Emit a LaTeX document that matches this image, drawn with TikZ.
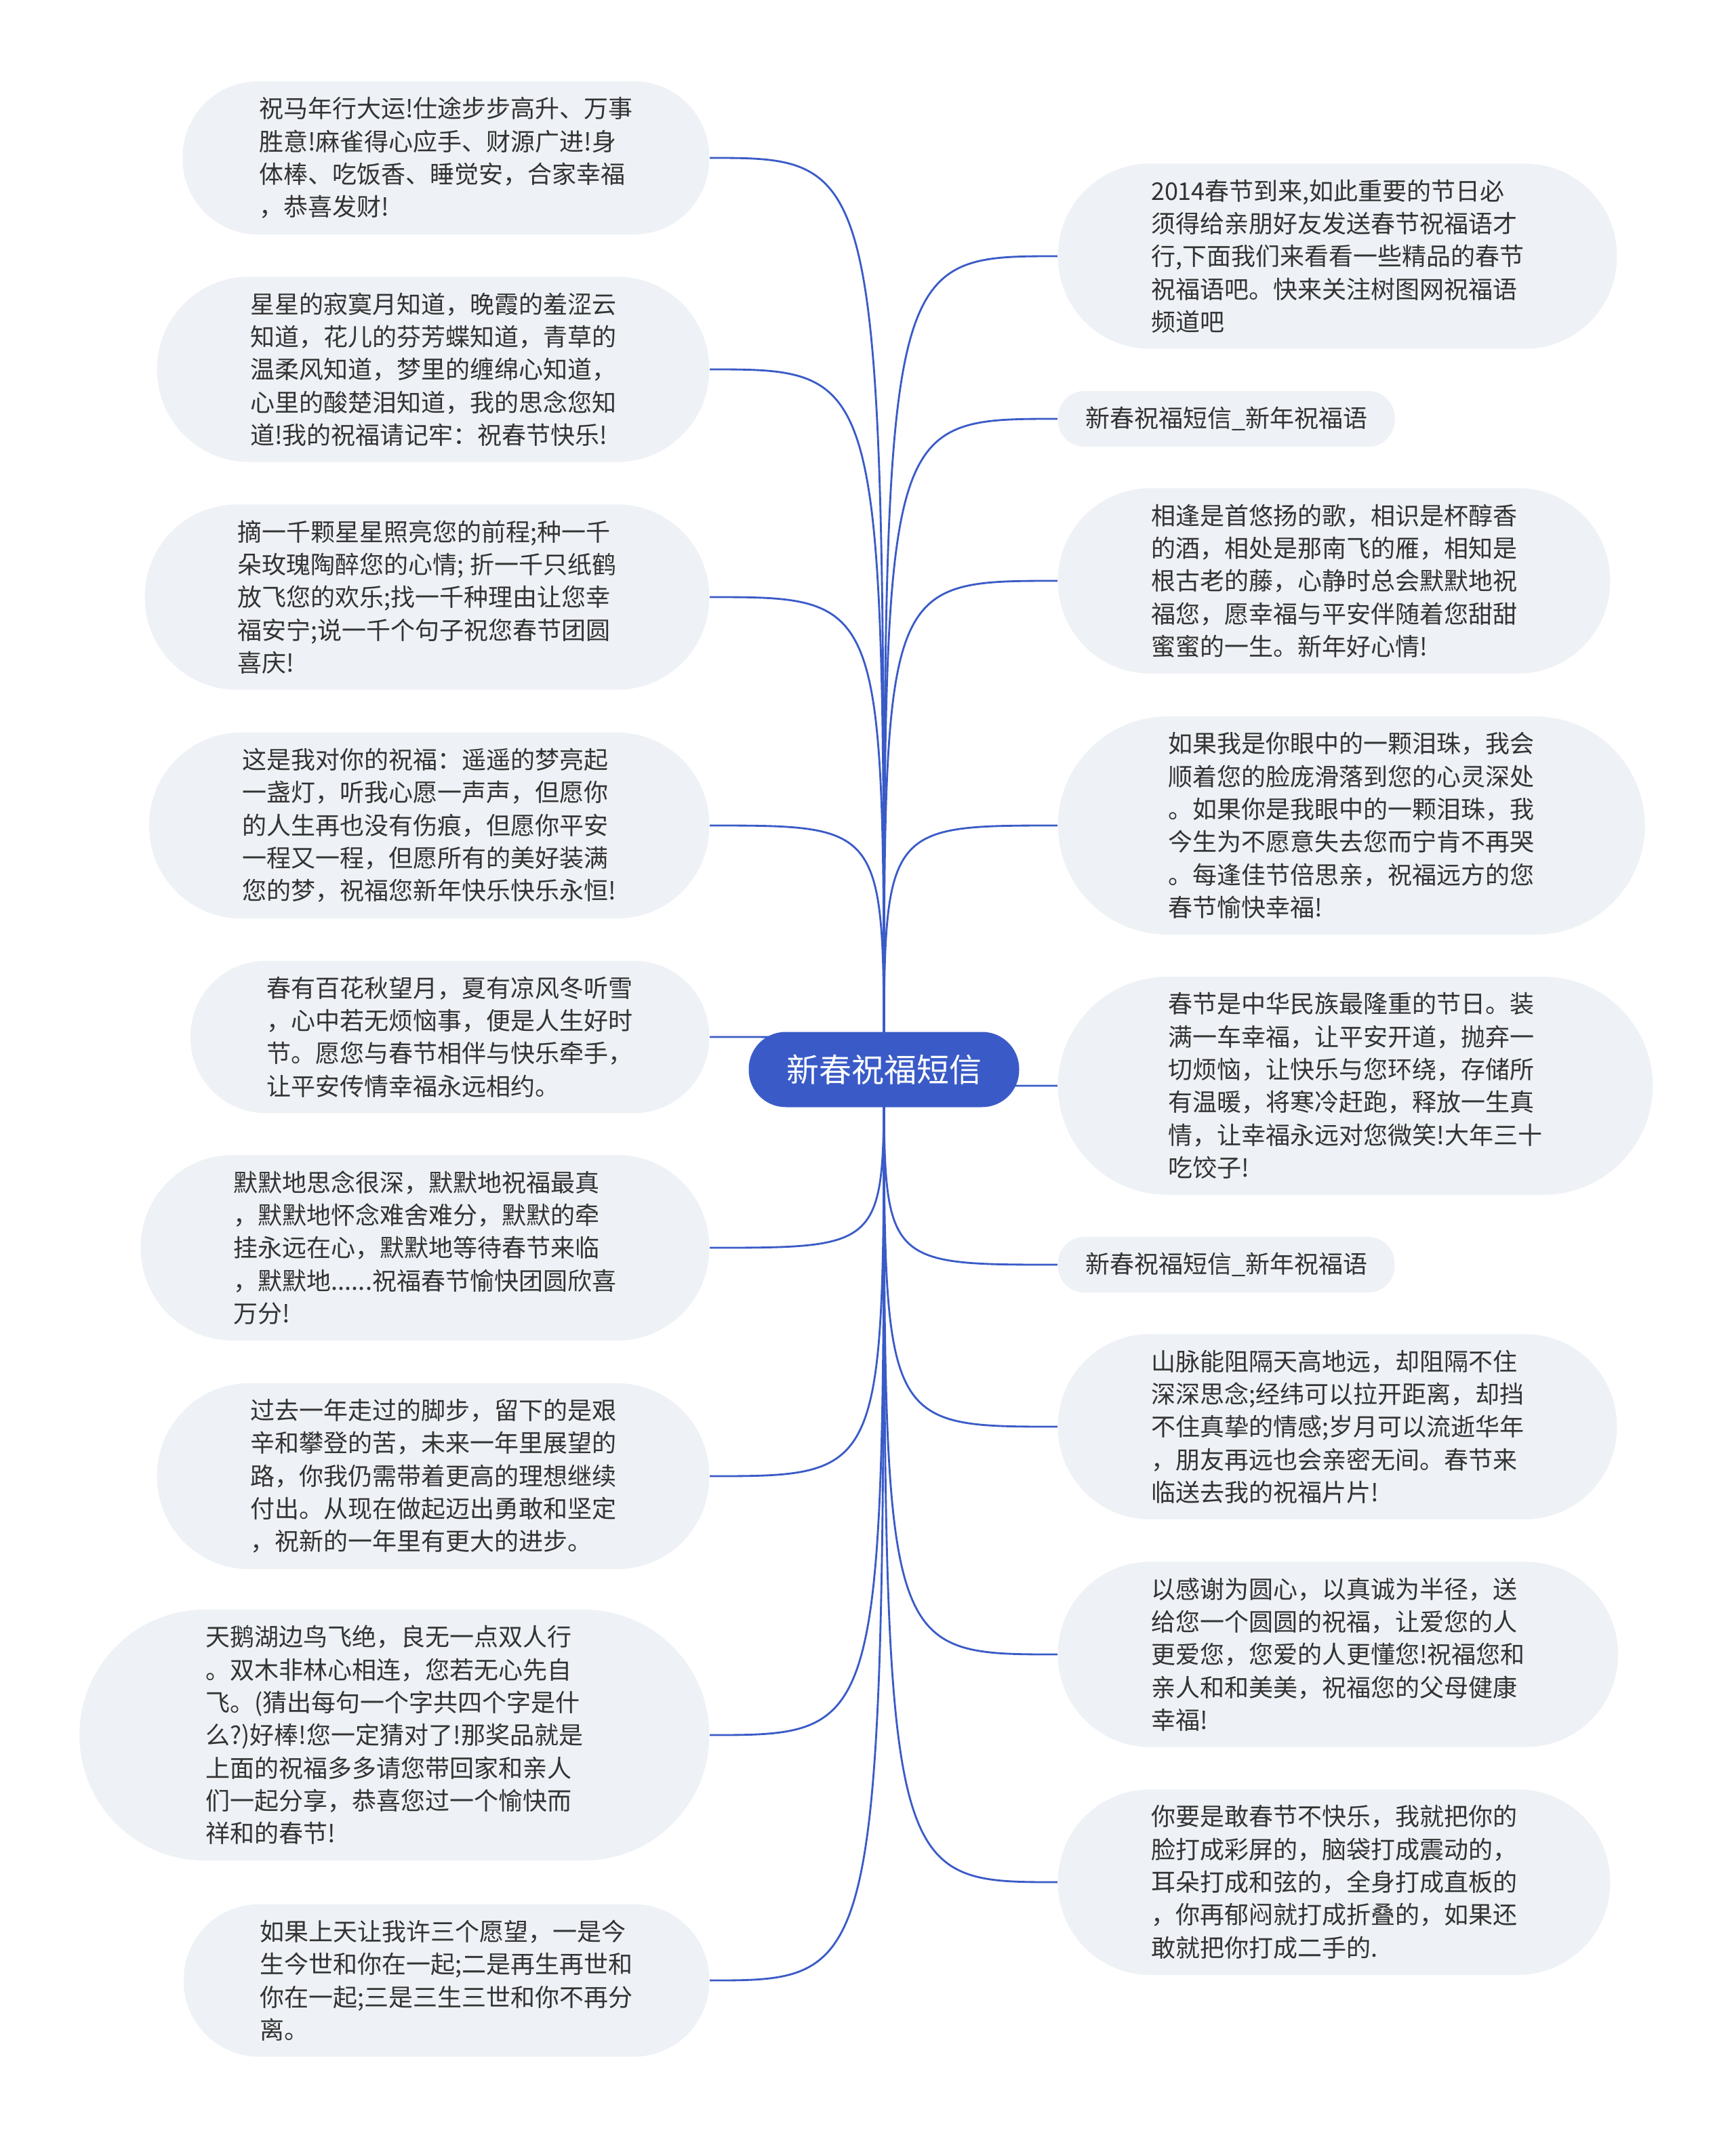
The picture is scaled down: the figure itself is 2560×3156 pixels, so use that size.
\documentclass[tikz,border=0pt]{standalone}
\usepackage{fontspec}
\setmainfont{Noto Sans CJK SC}
\usepackage{xcolor}
\usetikzlibrary{backgrounds}
\definecolor{rootblue}{HTML}{3A5BC7}
\definecolor{leafgray}{HTML}{EEF1F5}
\definecolor{inkgray}{HTML}{333333}

\begin{document}
\begin{tikzpicture}[x=0.3pt, y=-0.3pt,%
        root/.style={rectangle, rounded corners=16.4pt, fill=rootblue, text=white, inner xsep=16.65pt, minimum height=33.3pt, font=\fontsize{14.4pt}{17pt}\selectfont},%
        leaf/.style={rectangle, rounded corners=#1-0.4pt, inner xsep=#1, fill=leafgray, text=inkgray, align=left, inner ysep=7pt, font=\fontsize{10.8pt}{14.5pt}\selectfont},%
        link/.style={draw=rootblue, line width=0.85pt}]
    \useasboundingbox (0,0) rectangle (2560,3156);

    \node[root] (root) at (1304,1578) {新春祝福短信};

    \node[leaf=33.8pt, anchor=east] (l1) at (1047,233) {祝马年行大运!仕途步步高升、万事\\胜意!麻雀得心应手、财源广进!身\\体棒、吃饭香、睡觉安，合家幸福\\，恭喜发财!};
    \node[leaf=41.2pt, anchor=east] (l2) at (1047,545) {星星的寂寞月知道，晚霞的羞涩云\\知道，花儿的芬芳蝶知道，青草的\\温柔风知道，梦里的缠绵心知道，\\心里的酸楚泪知道，我的思念您知\\道!我的祝福请记牢：祝春节快乐!};
    \node[leaf=41.2pt, anchor=east] (l3) at (1047,881) {摘一千颗星星照亮您的前程;种一千\\朵玫瑰陶醉您的心情; 折一千只纸鹤\\放飞您的欢乐;找一千种理由让您幸\\福安宁;说一千个句子祝您春节团圆\\喜庆!};
    \node[leaf=41.2pt, anchor=east] (l4) at (1047,1218) {这是我对你的祝福：遥遥的梦亮起\\一盏灯，听我心愿一声声，但愿你\\的人生再也没有伤痕，但愿你平安\\一程又一程，但愿所有的美好装满\\您的梦，祝福您新年快乐快乐永恒!};
    \node[leaf=33.8pt, anchor=east] (l5) at (1047,1530) {春有百花秋望月，夏有凉风冬听雪\\，心中若无烦恼事，便是人生好时\\节。愿您与春节相伴与快乐牵手，\\让平安传情幸福永远相约。};
    \node[leaf=41.2pt, anchor=east] (l6) at (1047,1841) {默默地思念很深，默默地祝福最真\\，默默地怀念难舍难分，默默的牵\\挂永远在心，默默地等待春节来临\\，默默地......祝福春节愉快团圆欣喜\\万分!};
    \node[leaf=41.2pt, anchor=east] (l7) at (1047,2178) {过去一年走过的脚步，留下的是艰\\辛和攀登的苦，未来一年里展望的\\路，你我仍需带着更高的理想继续\\付出。从现在做起迈出勇敢和坚定\\，祝新的一年里有更大的进步。};
    \node[leaf=55.9pt, anchor=east] (l8) at (1047,2560) {天鹅湖边鸟飞绝，良无一点双人行\\。双木非林心相连，您若无心先自\\飞。(猜出每句一个字共四个字是什\\么?)好棒!您一定猜对了!那奖品就是\\上面的祝福多多请您带回家和亲人\\们一起分享，恭喜您过一个愉快而\\祥和的春节!};
    \node[leaf=33.8pt, anchor=east] (l9) at (1047,2922) {如果上天让我许三个愿望，一是今\\生今世和你在一起;二是再生再世和\\你在一起;三是三生三世和你不再分\\离。};

    \node[leaf=41.2pt, anchor=west] (r1) at (1560,378) {2014春节到来,如此重要的节日必\\须得给亲朋好友发送春节祝福语才\\行,下面我们来看看一些精品的春节\\祝福语吧。快来关注树图网祝福语\\频道吧};
    \node[leaf=12.1pt, anchor=west] (r2) at (1560,618) {新春祝福短信\_新年祝福语};
    \node[leaf=41.2pt, anchor=west] (r3) at (1560,857) {相逢是首悠扬的歌，相识是杯醇香\\的酒，相处是那南飞的雁，相知是\\根古老的藤，心静时总会默默地祝\\福您，愿幸福与平安伴随着您甜甜\\蜜蜜的一生。新年好心情!};
    \node[leaf=48.9pt, anchor=west] (r4) at (1560,1218) {如果我是你眼中的一颗泪珠，我会\\顺着您的脸庞滑落到您的心灵深处\\。如果你是我眼中的一颗泪珠，我\\今生为不愿意失去您而宁肯不再哭\\。每逢佳节倍思亲，祝福远方的您\\春节愉快幸福!};
    \node[leaf=48.9pt, anchor=west] (r5) at (1560,1602) {春节是中华民族最隆重的节日。装\\满一车幸福，让平安开道，抛弃一\\切烦恼，让快乐与您环绕，存储所\\有温暖，将寒冷赶跑，释放一生真\\情，让幸福永远对您微笑!大年三十\\吃饺子!};
    \node[leaf=12.1pt, anchor=west] (r6) at (1560,1866) {新春祝福短信\_新年祝福语};
    \node[leaf=41.2pt, anchor=west] (r7) at (1560,2105) {山脉能阻隔天高地远，却阻隔不住\\深深思念;经纬可以拉开距离，却挡\\不住真挚的情感;岁月可以流逝华年\\，朋友再远也会亲密无间。春节来\\临送去我的祝福片片!};
    \node[leaf=41.2pt, anchor=west] (r8) at (1560,2441) {以感谢为圆心，以真诚为半径，送\\给您一个圆圆的祝福，让爱您的人\\更爱您，您爱的人更懂您!祝福您和\\亲人和和美美，祝福您的父母健康\\幸福!};
    \node[leaf=41.2pt, anchor=west] (r9) at (1560,2777) {你要是敢春节不快乐，我就把你的\\脸打成彩屏的，脑袋打成震动的，\\耳朵打成和弦的，全身打成直板的\\，你再郁闷就打成折叠的，如果还\\敢就把你打成二手的.};

    \begin{scope}[on background layer]
        \foreach \i in {1,...,9} {
            \draw[link] (root.center) .. controls (root.center |- l\i.east) .. (l\i.east);
            \draw[link] (root.center) .. controls (root.center |- r\i.west) .. (r\i.west);
        }
    \end{scope}
\end{tikzpicture}
\end{document}
